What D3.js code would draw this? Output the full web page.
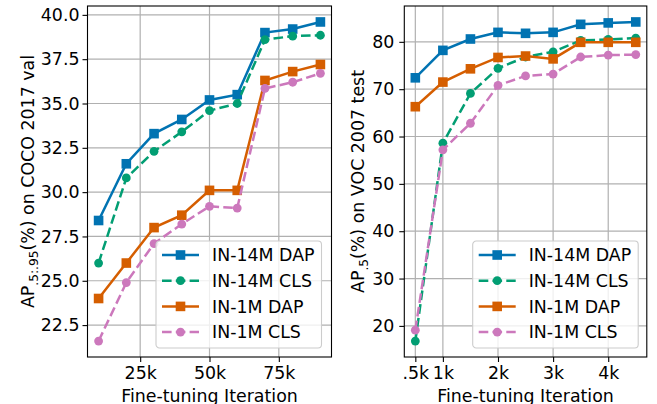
<!DOCTYPE html>
<html>
<head>
<meta charset="utf-8">
<script src="https://cdn.jsdelivr.net/npm/d3@7"></script>
<style>
    body { margin: 0; background: white; }
    svg { display: block; font-family: "DejaVu Sans", sans-serif; }
</style>
</head>
<body>
<div id="chart"></div>
<script>
// fine-tuning iterations (k)
var cocoIters = [10, 20, 30, 40, 50, 60, 70, 80, 90];
var vocIters = [0.5, 1, 1.5, 2, 2.5, 3, 3.5, 4, 4.5];

var seriesNames = ["IN-14M DAP", "IN-14M CLS", "IN-1M DAP", "IN-1M CLS"];

// COCO 2017 val, AP .5:.95
var coco14mDap = [28.4, 31.6, 33.3, 34.1, 35.2, 35.5, 39.0, 39.2, 39.6];
var coco14mCls = [26.0, 30.8, 32.3, 33.4, 34.6, 35.0, 38.6, 38.8, 38.85];
var coco1mDap = [24.0, 26.0, 28.0, 28.7, 30.1, 30.1, 36.3, 36.8, 37.2];
var coco1mCls = [21.6, 24.9, 27.1, 28.2, 29.2, 29.1, 35.85, 36.2, 36.7];

// VOC 2007 test, AP .5
var voc14mDap = [72.4, 78.2, 80.6, 82.0, 81.8, 82.0, 83.7, 84.0, 84.2];
var voc14mCls = [16.8, 58.6, 69.1, 74.4, 76.8, 77.9, 80.3, 80.5, 80.8];
var voc1mDap = [66.3, 71.5, 74.3, 76.7, 77.0, 76.4, 79.9, 79.9, 79.9];
var voc1mCls = [19.1, 57.2, 62.8, 70.8, 72.8, 73.2, 76.8, 77.2, 77.3];

var cocoXTicks = [25, 50, 75];
var cocoXLabels = ["25k", "50k", "75k"];
var cocoYTicks = [22.5, 25.0, 27.5, 30.0, 32.5, 35.0, 37.5, 40.0];
var vocXTicks = [0.5, 1, 2, 3, 4];
var vocXLabels = [".5k", "1k", "2k", "3k", "4k"];
var vocYTicks = [20, 30, 40, 50, 60, 70, 80];

var colors = ["#0173b2", "#029e73", "#d55e00", "#cc78bc"];
var dashed = [false, true, false, true];
var markers = ["square", "circle", "square", "circle"];

var width = 657, height = 404;
var fontSize = 17.4;

var svg = d3.select("#chart")
    .append("svg")
    .attr("width", width)
    .attr("height", height);

function padded(values) {
    var ext = d3.extent(values);
    var pad = (ext[1] - ext[0]) * 0.05;
    return [ext[0] - pad, ext[1] + pad];
}

function drawPanel(opt) {
    var x = d3.scaleLinear()
        .domain(padded(opt.iters))
        .range([opt.left, opt.right]);
    var y = d3.scaleLinear()
        .domain(padded(d3.merge(opt.series)))
        .range([opt.bottom, opt.top]);

    var g = svg.append("g");

    // grid
    g.selectAll(".vgrid")
        .data(opt.xTicks)
        .join("line")
        .attr("x1", d => x(d)).attr("x2", d => x(d))
        .attr("y1", opt.top).attr("y2", opt.bottom)
        .attr("stroke", "#b0b0b0")
        .attr("stroke-width", 1.2);
    g.selectAll(".hgrid")
        .data(opt.yTicks)
        .join("line")
        .attr("x1", opt.left).attr("x2", opt.right)
        .attr("y1", d => y(d)).attr("y2", d => y(d))
        .attr("stroke", "#b0b0b0")
        .attr("stroke-width", 1.2);

    // axes
    var xAxis = g.append("g")
        .attr("transform", `translate(0,${opt.bottom})`)
        .call(d3.axisBottom(x)
            .tickValues(opt.xTicks)
            .tickFormat((d, i) => opt.xLabels[i])
            .tickSize(5)
            .tickPadding(4)
            .tickSizeOuter(0));
    var yAxis = g.append("g")
        .attr("transform", `translate(${opt.left},0)`)
        .call(d3.axisLeft(y)
            .tickValues(opt.yTicks)
            .tickFormat(opt.yFormat)
            .tickSize(5)
            .tickPadding(opt.yPad)
            .tickSizeOuter(0));
    [xAxis, yAxis].forEach(a => {
        a.select(".domain").remove();
        a.selectAll("line").attr("stroke", "black").attr("stroke-width", 1.1);
        a.selectAll("text")
            .style("font-family", "DejaVu Sans")
            .style("font-size", fontSize + "px")
            .attr("fill", "black");
    });
    xAxis.selectAll("text").attr("dy", "0.72em");

    // lines + markers
    var line = d3.line()
        .x((d, i) => x(opt.iters[i]))
        .y(d => y(d));

    opt.series.forEach((vals, s) => {
        g.append("path")
            .datum(vals)
            .attr("d", line)
            .attr("fill", "none")
            .attr("stroke", colors[s])
            .attr("stroke-width", 2.5)
            .attr("stroke-dasharray", dashed[s] ? "9.6,4.2" : null);

        if (markers[s] === "square") {
            g.selectAll(".sq" + s)
                .data(vals)
                .join("rect")
                .attr("x", (d, i) => x(opt.iters[i]) - 4.8)
                .attr("y", d => y(d) - 4.8)
                .attr("width", 9.6)
                .attr("height", 9.6)
                .attr("fill", colors[s]);
        } else {
            g.selectAll(".ci" + s)
                .data(vals)
                .join("circle")
                .attr("cx", (d, i) => x(opt.iters[i]))
                .attr("cy", d => y(d))
                .attr("r", 4.4)
                .attr("fill", colors[s]);
        }
    });

    // frame
    g.append("rect")
        .attr("x", opt.left).attr("y", opt.top)
        .attr("width", opt.right - opt.left)
        .attr("height", opt.bottom - opt.top)
        .attr("fill", "none")
        .attr("stroke", "black")
        .attr("stroke-width", 1.1);

    // legend
    var lg = g.append("g")
        .attr("transform", `translate(${opt.legendX},${opt.legendY})`);
    lg.append("rect")
        .attr("x", 0).attr("y", 0)
        .attr("width", 165.5).attr("height", 107)
        .attr("rx", 3.5)
        .attr("fill", "white")
        .attr("fill-opacity", 0.8)
        .attr("stroke", "#cccccc")
        .attr("stroke-width", 1.1);
    seriesNames.forEach((name, s) => {
        var cy = 14 + s * 25.7;
        lg.append("line")
            .attr("x1", 6).attr("x2", 43)
            .attr("y1", cy).attr("y2", cy)
            .attr("stroke", colors[s])
            .attr("stroke-width", 2.5)
            .attr("stroke-dasharray", dashed[s] ? "9.6,4.2" : null);
        if (markers[s] === "square") {
            lg.append("rect")
                .attr("x", 24.5 - 4.8).attr("y", cy - 4.8)
                .attr("width", 9.6).attr("height", 9.6)
                .attr("fill", colors[s]);
        } else {
            lg.append("circle")
                .attr("cx", 24.5).attr("cy", cy)
                .attr("r", 4.4)
                .attr("fill", colors[s]);
        }
        lg.append("text")
            .attr("x", 56)
            .attr("y", cy + 6.3)
            .text(name)
            .style("font-size", fontSize + "px");
    });

    // x label
    g.append("text")
        .attr("x", (opt.left + opt.right) / 2)
        .attr("y", 402)
        .attr("text-anchor", "middle")
        .text("Fine-tuning Iteration")
        .style("font-size", fontSize + "px");

    // y label with subscript
    var yl = g.append("text")
        .attr("transform", `translate(${opt.yLabelX},${(opt.top + opt.bottom) / 2}) rotate(-90)`)
        .attr("text-anchor", "middle")
        .style("font-size", fontSize + "px");
    yl.append("tspan").text("AP");
    yl.append("tspan")
        .attr("dy", 4)
        .style("font-size", "12.2px")
        .text(opt.sub);
    yl.append("tspan")
        .attr("dy", -4)
        .text(opt.labelRest);
}

drawPanel({
    iters: cocoIters,
    series: [coco14mDap, coco14mCls, coco1mDap, coco1mCls],
    left: 87.5, right: 331.5, top: 6, bottom: 357,
    xTicks: cocoXTicks, xLabels: cocoXLabels,
    yTicks: cocoYTicks, yFormat: d3.format(".1f"), yPad: 3,
    legendX: 156, legendY: 241,
    yLabelX: 34, sub: ".5:.95", labelRest: "(%) on COCO 2017 val"
});

drawPanel({
    iters: vocIters,
    series: [voc14mDap, voc14mCls, voc1mDap, voc1mCls],
    left: 404.3, right: 646.8, top: 6, bottom: 357,
    xTicks: vocXTicks, xLabels: vocXLabels,
    yTicks: vocYTicks, yFormat: d3.format("d"), yPad: 5,
    legendX: 472.7, legendY: 241,
    yLabelX: 364, sub: ".5", labelRest: "(%) on VOC 2007 test"
});
</script>
</body>
</html>
